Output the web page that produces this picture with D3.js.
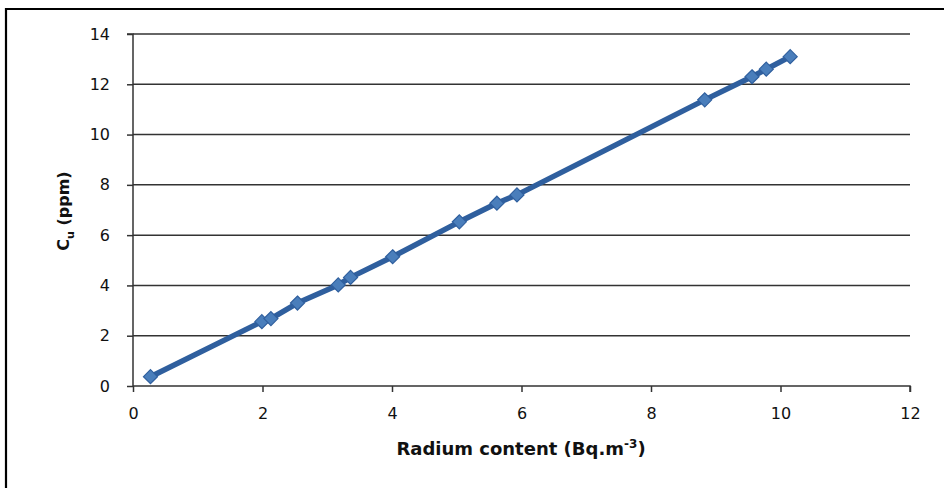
<!DOCTYPE html>
<html><head><meta charset="utf-8">
<script src="https://cdn.jsdelivr.net/npm/d3@7"></script>
<style>body{margin:0;background:#fff}svg{display:block}</style>
</head><body>
<svg id="c" width="944" height="488"></svg>
<script>
const radium = [0.27, 1.99, 2.13, 2.54, 3.17, 3.36, 4.01, 5.04, 5.62, 5.93, 8.83, 9.56, 9.78, 10.15];
const cu     = [0.37, 2.56, 2.68, 3.30, 4.02, 4.32, 5.14, 6.53, 7.27, 7.60, 11.38, 12.30, 12.60, 13.10];
const xTicks = [0, 2, 4, 6, 8, 10, 12];
const yTicks = [0, 2, 4, 6, 8, 10, 12, 14];

const svg = d3.select('#c');
const x = d3.scaleLinear().domain([0, 12]).range([133, 910]);
const y = d3.scaleLinear().domain([0, 14]).range([386, 34]);
const font = '"DejaVu Sans", Verdana, sans-serif';

// outer frame (top & left visible)
svg.append('path').attr('d', 'M6,944 L6,9 L944,9').attr('fill','none').attr('stroke','#000').attr('stroke-width',2.2);

// gridlines
svg.append('g').selectAll('line').data(yTicks.filter(d => d > 0)).join('line')
  .attr('x1', x(0)).attr('x2', x(12)).attr('y1', d => y(d)).attr('y2', d => y(d))
  .attr('stroke', '#333').attr('stroke-width', 1.5);

// y axis
const ya = svg.append('g').attr('transform', `translate(${x(0)},0)`)
  .call(d3.axisLeft(y).tickValues(yTicks).tickSize(6).tickPadding(17));
// x axis
const xa = svg.append('g').attr('transform', `translate(0,${y(0)})`)
  .call(d3.axisBottom(x).tickValues(xTicks).tickSize(6).tickPadding(16));
[ya, xa].forEach(a => {
  a.select('.domain').attr('stroke', '#333').attr('stroke-width', 1.5);
  a.selectAll('.tick line').attr('stroke', '#333').attr('stroke-width', 1.5);
  a.selectAll('text').attr('font-family', font).attr('font-size', 16).attr('fill', '#111');
});
xa.select('.domain').attr('d', `M${x(0)},0V0H${x(12)}V6`);
ya.select('.domain').attr('d', `M-6,${y(14)}H0V${y(0)}`);

// line
const pts = radium.map((r, i) => [r, cu[i]]);
svg.append('path').datum(pts)
  .attr('d', d3.line().x(d => x(d[0])).y(d => y(d[1])))
  .attr('fill', 'none').attr('stroke', '#2f5f9e').attr('stroke-width', 5.5).attr('stroke-linejoin','round');

// markers
svg.append('g').selectAll('path').data(pts).join('path')
  .attr('transform', d => `translate(${x(d[0])},${y(d[1])})`)
  .attr('d', 'M0,-7L7,0L0,7L-7,0Z')
  .attr('fill', '#4a7ebb').attr('stroke', '#2f5f9e').attr('stroke-width', 1.2);

// axis titles
const xt = svg.append('text').attr('x', 521).attr('y', 455).attr('text-anchor', 'middle')
  .attr('font-family', font).attr('font-size', 18).attr('font-weight', 'bold').attr('fill', '#111');
xt.append('tspan').text('Radium content (Bq.m');
xt.append('tspan').attr('dy', -7).attr('font-size', 12).text('-3');
xt.append('tspan').attr('dy', 7).text(')');

const yt = svg.append('text').attr('transform', 'translate(69,211) rotate(-90)').attr('text-anchor', 'middle')
  .attr('font-family', font).attr('font-size', 16).attr('font-weight', 'bold').attr('fill', '#111');
yt.append('tspan').text('C');
yt.append('tspan').attr('dy', 5).attr('font-size', 11).text('u');
yt.append('tspan').attr('dy', -5).text(' (ppm)');
</script>
</body></html>
